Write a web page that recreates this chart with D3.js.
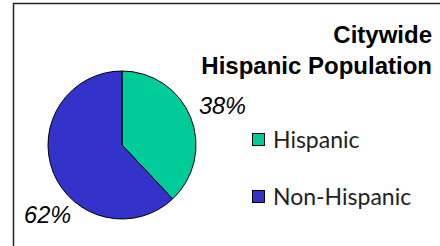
<!DOCTYPE html>
<html>
<head>
<meta charset="utf-8">
<script src="https://cdn.jsdelivr.net/npm/d3@7"></script>
<style>
  body { margin: 0; background: #fff; }
  svg { display: block; }
</style>
</head>
<body>
<div id="chart"></div>
<script>
// Chart data
const categories = ["Hispanic", "Non-Hispanic"];
const shares = [38, 62];
const colors = ["#00cc99", "#3333cc"];
const titleLines = ["Citywide", "Hispanic Population"];

const width = 440, height = 246;

const svg = d3.select("#chart").append("svg")
    .attr("width", width)
    .attr("height", height);

// Frame (runs off the right and bottom edges)
svg.append("rect")
    .attr("x", 13.5)
    .attr("y", 3.5)
    .attr("width", 460)
    .attr("height", 260)
    .attr("fill", "#fff")
    .attr("stroke", "#222")
    .attr("stroke-width", 1.5);

// Title, right aligned
svg.append("g").selectAll("text")
    .data(titleLines)
    .join("text")
    .attr("x", 432)
    .attr("y", (d, i) => 43 + i * 31)
    .attr("text-anchor", "end")
    .attr("font-family", "Liberation Sans, Arial, sans-serif")
    .attr("font-weight", "bold")
    .attr("font-size", 24)
    .attr("fill", "#000")
    .text(d => d);

// Pie
const data = categories.map((c, i) => ({ category: c, value: shares[i] }));
const color = d3.scaleOrdinal().domain(categories).range(colors);
const pie = d3.pie().value(d => d.value).sort(null);
const radius = 74;
const arc = d3.arc().innerRadius(0).outerRadius(radius);
const labelArc = d3.arc().innerRadius(108).outerRadius(108);

const g = svg.append("g").attr("transform", "translate(122,145)");
const slices = pie(data);

g.selectAll("path")
    .data(slices)
    .join("path")
    .attr("d", arc)
    .attr("fill", d => color(d.data.category))
    .attr("stroke", "#000")
    .attr("stroke-width", 1);

// Percent labels (Excel-style placement outside the slices)
const labelShift = { "Hispanic": [0, 0], "Non-Hispanic": [26, 30] };
g.selectAll("text.pct")
    .data(slices)
    .join("text")
    .attr("class", "pct")
    .attr("transform", d => {
        const [x, y] = labelArc.centroid(d);
        const s = labelShift[d.data.category];
        return `translate(${x + s[0]},${y + s[1]})`;
    })
    .attr("text-anchor", "middle")
    .attr("dy", "0.36em")
    .attr("font-family", "Liberation Sans, Arial, sans-serif")
    .attr("font-style", "italic")
    .attr("font-size", 23.5)
    .attr("fill", "#000")
    .text(d => d.data.value + "%");

// Legend
const legendY = d3.scalePoint().domain(categories).range([140, 197]);
const legend = svg.append("g").selectAll("g")
    .data(categories)
    .join("g")
    .attr("transform", d => `translate(252,${legendY(d)})`);

legend.append("rect")
    .attr("x", 0.5)
    .attr("y", -6.5)
    .attr("width", 12)
    .attr("height", 12)
    .attr("fill", d => color(d))
    .attr("stroke", "#000")
    .attr("stroke-width", 1);

legend.append("text")
    .attr("x", 21)
    .attr("y", 7.5)
    .attr("font-family", "Lato, sans-serif")
    .attr("font-size", 23)
    .attr("fill", "#222")
    .text(d => d);
</script>
</body>
</html>
